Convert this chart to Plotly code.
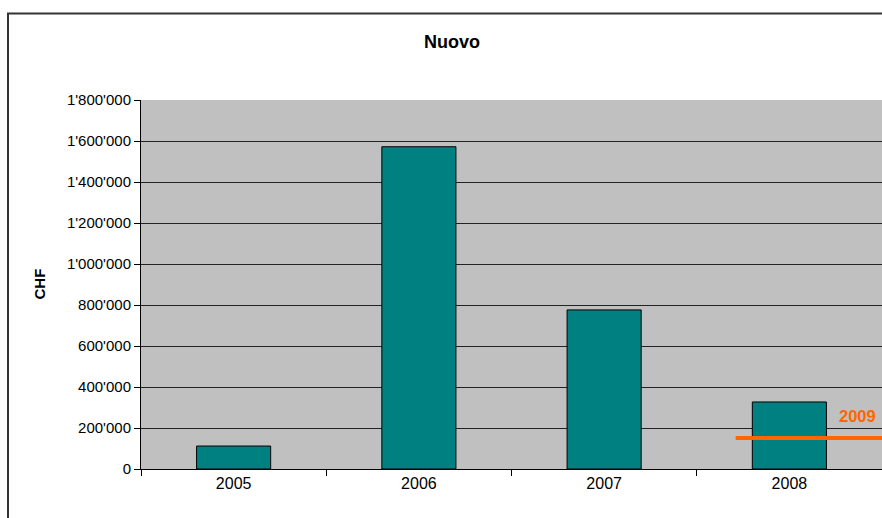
import plotly.graph_objects as go

years = ["2005", "2006", "2007", "2008"]
values = [112000, 1572000, 776000, 327000]
target_label = "2009"
target_value = 151000
target_start = 2.71  # category position where the 2009 line begins
y_ticks = [0, 200000, 400000, 600000, 800000, 1000000, 1200000, 1400000, 1600000, 1800000]
y_ticktext = ["0", "200'000", "400'000", "600'000", "800'000", "1'000'000",
              "1'200'000", "1'400'000", "1'600'000", "1'800'000"]

FONT = "Liberation Sans, Arial, sans-serif"

W, H = 882, 518
L, T = 141, 100
B = H - 469
R = 0
pw = W - L - R
ph = H - T - B

def px_x(px):
    return (px - L) / pw

def px_y(py):
    return (H - B - py) / ph

fig = go.Figure()
fig.add_trace(go.Bar(
    x=years, y=values, width=0.4,
    marker=dict(color="#008080", line=dict(color="#000000", width=1)),
    showlegend=False, hoverinfo="x+y",
))

fig.update_layout(
    width=W, height=H,
    margin=dict(l=L, r=R, t=T, b=B, pad=0),
    paper_bgcolor="white",
    plot_bgcolor="#C0C0C0",
    font=dict(family=FONT, color="#000000"),
    bargap=0.6,
    xaxis=dict(
        type="category", range=[-0.5, 3.5],
        tickson="boundaries", ticks="outside", ticklen=6, tickcolor="#000",
        showline=True, linecolor="#000", linewidth=1,
        showgrid=False, tickfont=dict(size=16, family=FONT),
        fixedrange=True,
    ),
    yaxis=dict(
        range=[0, 1800000], tickvals=y_ticks, ticktext=y_ticktext,
        ticks="outside", ticklen=6, tickcolor="#000",
        showline=True, linecolor="#000", linewidth=1,
        showgrid=True, gridcolor="#222222", gridwidth=1,
        zeroline=False, tickfont=dict(size=15, family=FONT),
        fixedrange=True,
    ),
    shapes=[
        dict(type="line", xref="x", yref="y", x0=target_start, x1=3.5,
             y0=target_value, y1=target_value,
             line=dict(color="#FF6600", width=4)),
        dict(type="rect", xref="paper", yref="paper",
             x0=px_x(8), x1=px_x(W + 20), y0=px_y(H + 20), y1=px_y(13.5),
             line=dict(color="#333333", width=2), layer="above"),
    ],
    annotations=[
        dict(text="<b>Nuovo</b>", xref="paper", yref="paper",
             x=px_x(452), y=px_y(42), showarrow=False,
             xanchor="center", yanchor="middle",
             font=dict(size=18, family=FONT, color="#000")),
        dict(text="<b>CHF</b>", xref="paper", yref="paper",
             x=px_x(39), y=0.5, showarrow=False, textangle=-90,
             xanchor="center", yanchor="middle",
             font=dict(size=15, family=FONT, color="#000")),
        dict(text="<b>" + target_label + "</b>", xref="x", yref="y",
             x=3.5, y=target_value, showarrow=False,
             xanchor="right", yanchor="middle", xshift=-4, yshift=22,
             font=dict(size=16.5, family=FONT, color="#FF6600")),
    ],
)

fig.write_html(
    "out.html",
    config={"displayModeBar": False},
    post_script="document.body.style.margin='0';document.body.style.overflow='hidden';",
)
